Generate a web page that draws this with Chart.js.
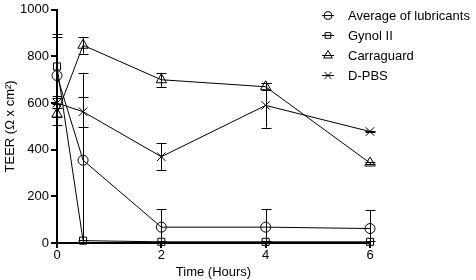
<!DOCTYPE html>
<html>
<head>
<meta charset="utf-8">
<script src="https://cdn.jsdelivr.net/npm/chart.js@4"></script>
<style>
  html, body { margin: 0; padding: 0; background: #fff; }
  #wrap { width: 476px; height: 280px; }
</style>
</head>
<body>
<div id="wrap"><canvas id="teerChart" width="476" height="280"></canvas></div>
<script>
// values
const times = [0, 0.5, 2, 4, 6];
const seriesNames = ['Average of lubricants', 'Gynol II', 'Carraguard', 'D-PBS'];
const lubricants = [718, 355, 68, 68, 62];
const lubricantsErr = [178, 375, 77, 77, 78];
const gynol = [757, 10, 5, 5, 5];
const gynolErr = [128, 5, 4, 4, 4];
const carraguard = [553, 848, 700, 670, 343];
const carraguardErr = [45, 36, 30, 15, 4];
const dpbs = [600, 563, 370, 590, 478];
const dpbsErr = [20, 64, 58, 95, 4];
const yTicks = [0, 200, 400, 600, 800, 1000];
const xTicks = [0, 2, 4, 6];

const markers = ['circle', 'rect', 'triangle', 'crossRot'];
const markerSize = [5, 5, 6, 6];
const FONT = '"Liberation Sans", Arial, sans-serif';

function pts(vals) {
  return times.map((t, i) => ({ x: t, y: vals[i] }));
}

const allVals = [lubricants, gynol, carraguard, dpbs];
const allErrs = [lubricantsErr, gynolErr, carraguardErr, dpbsErr];

// error bars with caps
const errorBars = {
  id: 'errorBars',
  afterDatasetsDraw(chart) {
    const ctx = chart.ctx;
    const xs = chart.scales.x, ys = chart.scales.y;
    const area = chart.chartArea;
    ctx.save();
    ctx.beginPath();
    ctx.rect(area.left - 10, area.top - 10, area.right - area.left + 20, area.bottom - area.top + 10);
    ctx.clip();
    ctx.strokeStyle = '#000';
    ctx.lineWidth = 1;
    chart.data.datasets.forEach((ds) => {
      ds.errors.forEach((e, i) => {
        const p = ds.data[i];
        const px = Math.round(xs.getPixelForValue(p.x)) + 0.5;
        const hi = ys.getPixelForValue(p.y + e);
        const lo = ys.getPixelForValue(Math.max(p.y - e, 0));
        ctx.beginPath();
        ctx.moveTo(px, hi);
        ctx.lineTo(px, lo);
        ctx.moveTo(px - 5, Math.round(hi) + 0.5);
        ctx.lineTo(px + 5, Math.round(hi) + 0.5);
        if (p.y - e > 0) {
          ctx.moveTo(px - 5, Math.round(lo) + 0.5);
          ctx.lineTo(px + 5, Math.round(lo) + 0.5);
        }
        ctx.stroke();
      });
    });
    ctx.restore();
  }
};

// legend on the right: short line with the marker, then the name
const sideLegend = {
  id: 'sideLegend',
  afterDraw(chart) {
    const ctx = chart.ctx;
    ctx.save();
    ctx.font = '13px ' + FONT;
    ctx.textBaseline = 'middle';
    chart.data.datasets.forEach((ds, i) => {
      const y = 15.5 + i * 20;
      ctx.strokeStyle = '#000';
      ctx.lineWidth = 1;
      ctx.beginPath();
      ctx.moveTo(322, y);
      ctx.lineTo(334, y);
      ctx.stroke();
      ctx.fillStyle = 'rgba(0,0,0,0)';
      Chart.helpers.drawPoint(ctx, {
        pointStyle: ds.pointStyle, radius: ds.pointRadius - 1, borderWidth: 1
      }, 328, y);
      ctx.fillStyle = '#000';
      ctx.fillText(ds.label, 348, y + 1);
    });
    ctx.restore();
  }
};

const ctx = document.getElementById('teerChart');
new Chart(ctx, {
  type: 'line',
  data: {
    datasets: seriesNames.map((name, i) => ({
      label: name,
      data: pts(allVals[i]),
      errors: allErrs[i],
      borderColor: '#000',
      borderWidth: 1,
      backgroundColor: 'rgba(0,0,0,0)',
      pointStyle: markers[i],
      pointRadius: markerSize[i],
      pointBorderColor: '#000',
      pointBorderWidth: 1,
      pointBackgroundColor: 'rgba(0,0,0,0)',
      tension: 0,
      clip: false
    }))
  },
  options: {
    responsive: false,
    animation: false,
    layout: { padding: { top: 9, right: 106, left: 3, bottom: 0 } },
    plugins: { legend: { display: false }, tooltip: { enabled: false } },
    scales: {
      x: {
        type: 'linear', min: 0, max: 6,
        afterBuildTicks: (s) => { s.ticks = xTicks.map(v => ({ value: v })); },
        afterFit: (s) => { s.height = 37; },
        grid: { display: true, drawOnChartArea: false, drawTicks: true, tickLength: 5, color: '#000', lineWidth: 2 },
        border: { display: true, color: '#000', width: 2 },
        ticks: { color: '#000', padding: 0, maxRotation: 0, font: { family: FONT, size: 13 } },
        title: { display: true, text: 'Time (Hours)', color: '#000', padding: { top: 1, bottom: 0 }, font: { family: FONT, size: 13 } }
      },
      y: {
        min: 0, max: 1000,
        afterBuildTicks: (s) => { s.ticks = yTicks.map(v => ({ value: v })); },
        afterFit: (s) => { s.width = 54; },
        grid: { display: true, drawOnChartArea: false, drawTicks: true, tickLength: 6, color: '#000', lineWidth: 2 },
        border: { display: true, color: '#000', width: 2 },
        ticks: { color: '#000', padding: 2, font: { family: FONT, size: 13 }, callback: (v) => String(v) },
        title: { display: true, text: 'TEER (Ω x cm²)', color: '#000', padding: { top: 0, bottom: 2 }, font: { family: FONT, size: 13 } }
      }
    }
  },
  plugins: [errorBars, sideLegend]
});
</script>
</body>
</html>
